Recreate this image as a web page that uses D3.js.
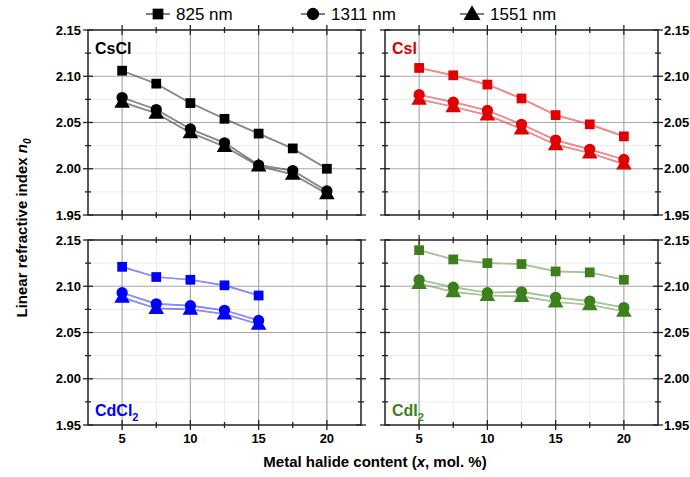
<!DOCTYPE html>
<html lang="en">
<head>
<meta charset="utf-8">
<title>Linear refractive index vs metal halide content</title>
<script src="https://d3js.org/d3.v7.min.js"></script>
<style>
  body { margin: 0; background: #fff; }
  text { font-family: "Liberation Sans", Arial, sans-serif; }
</style>
</head>
<body>
<svg></svg>
<script>

// data
var xs7 = [5, 7.5, 10, 12.5, 15, 17.5, 20];
var xs5 = [5, 7.5, 10, 12.5, 15];
var wavelengths = ["825 nm", "1311 nm", "1551 nm"];

var cscl825  = [2.106, 2.092, 2.071, 2.054, 2.038, 2.022, 2.000];
var cscl1311 = [2.077, 2.064, 2.043, 2.028, 2.004, 1.998, 1.976];
var cscl1551 = [2.072, 2.060, 2.039, 2.024, 2.003, 1.994, 1.973];

var csi825  = [2.109, 2.101, 2.091, 2.076, 2.058, 2.048, 2.035];
var csi1311 = [2.080, 2.072, 2.063, 2.048, 2.031, 2.021, 2.010];
var csi1551 = [2.075, 2.067, 2.058, 2.043, 2.026, 2.017, 2.005];

var cdcl825  = [2.121, 2.110, 2.107, 2.101, 2.090];
var cdcl1311 = [2.093, 2.081, 2.079, 2.074, 2.063];
var cdcl1551 = [2.088, 2.076, 2.075, 2.070, 2.059];

var cdi825  = [2.139, 2.129, 2.125, 2.124, 2.116, 2.115, 2.107];
var cdi1311 = [2.107, 2.099, 2.093, 2.094, 2.088, 2.084, 2.077];
var cdi1551 = [2.103, 2.094, 2.090, 2.089, 2.083, 2.080, 2.073];

var yTicks = [1.95, 2.00, 2.05, 2.10, 2.15];
var xTicks = [5, 10, 15, 20];

var w = 690, h = 477;
var svg = d3.select("svg").attr("width", w).attr("height", h);

var panels = [
  {name: "CsCl", sub: "", color: "#000000", x: 88, y: 30, xs: xs7,
   series: [cscl825, cscl1311, cscl1551], labelPos: "top", yLabels: "left", xLabels: false},
  {name: "CsI", sub: "", color: "#e00000", x: 385, y: 30, xs: xs7,
   series: [csi825, csi1311, csi1551], labelPos: "top", yLabels: "right", xLabels: false},
  {name: "CdCl", sub: "2", color: "#0000ff", x: 88, y: 240, xs: xs5,
   series: [cdcl825, cdcl1311, cdcl1551], labelPos: "bottom", yLabels: "left", xLabels: true},
  {name: "CdI", sub: "2", color: "#3d7f1c", x: 385, y: 240, xs: xs7,
   series: [cdi825, cdi1311, cdi1551], labelPos: "bottom", yLabels: "right", xLabels: true}
];

var pw = 273, ph = 185;
var xScale = d3.scaleLinear().domain([2.5, 22.5]).range([0, pw]);
var yScale = d3.scaleLinear().domain([1.95, 2.15]).range([ph, 0]);

var shapes = [d3.symbolSquare, d3.symbolCircle, d3.symbolTriangle];
var sizes = [95, 100, 105];

panels.forEach(function(p) {
  var g = svg.append("g").attr("transform", `translate(${p.x},${p.y})`);

  // minor grid
  var minorX = d3.range(2.5, 22.6, 2.5).filter(v => v % 5 != 0);
  var minorY = d3.range(1.975, 2.15, 0.05);
  g.selectAll(".mgx").data(minorX).enter().append("line")
      .attr("x1", d => xScale(d)).attr("x2", d => xScale(d))
      .attr("y1", 0).attr("y2", ph)
      .attr("stroke", "#ececec").attr("stroke-width", 1);
  g.selectAll(".mgy").data(minorY).enter().append("line")
      .attr("y1", d => yScale(d)).attr("y2", d => yScale(d))
      .attr("x1", 0).attr("x2", pw)
      .attr("stroke", "#ececec").attr("stroke-width", 1);

  // major grid
  g.selectAll(".gx").data(xTicks).enter().append("line")
      .attr("x1", d => xScale(d)).attr("x2", d => xScale(d))
      .attr("y1", 0).attr("y2", ph)
      .attr("stroke", "#a8a8a8").attr("stroke-width", 1.2);
  g.selectAll(".gy").data(yTicks.slice(1, 4)).enter().append("line")
      .attr("y1", d => yScale(d)).attr("y2", d => yScale(d))
      .attr("x1", 0).attr("x2", pw)
      .attr("stroke", "#a8a8a8").attr("stroke-width", 1.2);

  // ticks crossing the frame on all four sides
  var minX = d3.range(2.5, 22.6, 2.5).filter(v => v % 5 != 0 && v > 2.5 && v < 22.5);
  var minY = d3.range(1.975, 2.15, 0.05);
  var tk = g.append("g").attr("stroke", "#222").attr("stroke-width", 1.3);
  [0, ph].forEach(function(yy) {
    xTicks.forEach(v => tk.append("line").attr("x1", xScale(v)).attr("x2", xScale(v)).attr("y1", yy - 5).attr("y2", yy + 5));
    minX.forEach(v => tk.append("line").attr("x1", xScale(v)).attr("x2", xScale(v)).attr("y1", yy - 3).attr("y2", yy + 3));
  });
  [0, pw].forEach(function(xx) {
    yTicks.forEach(v => tk.append("line").attr("y1", yScale(v)).attr("y2", yScale(v)).attr("x1", xx - 5).attr("x2", xx + 5));
    minY.forEach(v => tk.append("line").attr("y1", yScale(v)).attr("y2", yScale(v)).attr("x1", xx - 3).attr("x2", xx + 3));
  });

  g.append("rect").attr("width", pw).attr("height", ph)
      .attr("fill", "none").attr("stroke", "#222").attr("stroke-width", 1.5);

  // tick labels
  if (p.yLabels == "left") {
    g.selectAll(".yl").data(yTicks).enter().append("text")
        .attr("x", -7).attr("y", d => yScale(d) + 4.5)
        .attr("text-anchor", "end").attr("font-size", 13).attr("font-weight", "bold")
        .text(d => d.toFixed(2));
  } else {
    g.selectAll(".yl").data(yTicks).enter().append("text")
        .attr("x", pw + 6).attr("y", d => yScale(d) + 4.5)
        .attr("text-anchor", "start").attr("font-size", 13).attr("font-weight", "bold")
        .text(d => d.toFixed(2));
  }
  if (p.xLabels) {
    g.selectAll(".xl").data(xTicks).enter().append("text")
        .attr("x", d => xScale(d)).attr("y", ph + 18)
        .attr("text-anchor", "middle").attr("font-size", 13).attr("font-weight", "bold")
        .text(d => d);
  }

  // series: thin lines, then markers on top
  var line = d3.line().x(d => xScale(d[0])).y(d => yScale(d[1]));
  p.series.forEach(function(vals) {
    var pts = p.xs.map((x, j) => [x, vals[j]]);
    g.append("path").datum(pts).attr("d", line)
        .attr("fill", "none").attr("stroke", p.color).attr("stroke-width", 1.7).attr("opacity", 0.6);
    g.append("path").datum(pts).attr("d", line)
        .attr("fill", "none").attr("stroke", "#fff").attr("stroke-width", 0.5).attr("opacity", 0.6);
  });
  p.series.forEach(function(vals, i) {
    var pts = p.xs.map((x, j) => [x, vals[j]]);
    g.selectAll(".m" + i).data(pts).enter().append("path")
        .attr("transform", d => `translate(${xScale(d[0])},${yScale(d[1]) + (i == 2 ? 1 : 0)})`)
        .attr("d", d3.symbol().type(shapes[i]).size(sizes[i]))
        .attr("fill", p.color);
  });

  // panel label
  var lab = g.append("text")
      .attr("x", 7)
      .attr("y", p.labelPos == "top" ? 24 : ph - 9)
      .attr("font-size", 16).attr("font-weight", "bold").attr("fill", p.color);
  lab.append("tspan").text(p.name);
  if (p.sub) lab.append("tspan").attr("font-size", 11).attr("dy", 5).text(p.sub);
});

// legend
var legX = [158, 313, 472];
wavelengths.forEach(function(name, i) {
  var lg = svg.append("g").attr("transform", `translate(${legX[i]},14)`);
  lg.append("line").attr("x1", -12).attr("x2", 12).attr("stroke", "#000").attr("stroke-width", 1);
  lg.append("path").attr("d", d3.symbol().type(shapes[i]).size(sizes[i] + 20)).attr("fill", "#000")
      .attr("transform", i == 2 ? "translate(0,1)" : null);
  lg.append("text").attr("x", 18).attr("y", 6).attr("font-size", 17).text(name);
});

// axis titles
svg.append("text")
    .attr("x", 375).attr("y", 467)
    .attr("text-anchor", "middle").attr("font-size", 15).attr("font-weight", "bold")
    .html("Metal halide content (<tspan font-style='italic'>x</tspan>, mol. %)");

var yt = svg.append("text")
    .attr("transform", "translate(27,228) rotate(-90)")
    .attr("text-anchor", "middle").attr("font-size", 15).attr("font-weight", "bold");
yt.append("tspan").text("Linear refractive index ");
yt.append("tspan").attr("font-style", "italic").text("n");
yt.append("tspan").attr("font-style", "italic").attr("font-size", 10).attr("dy", 4).text("0");

</script>
</body>
</html>
